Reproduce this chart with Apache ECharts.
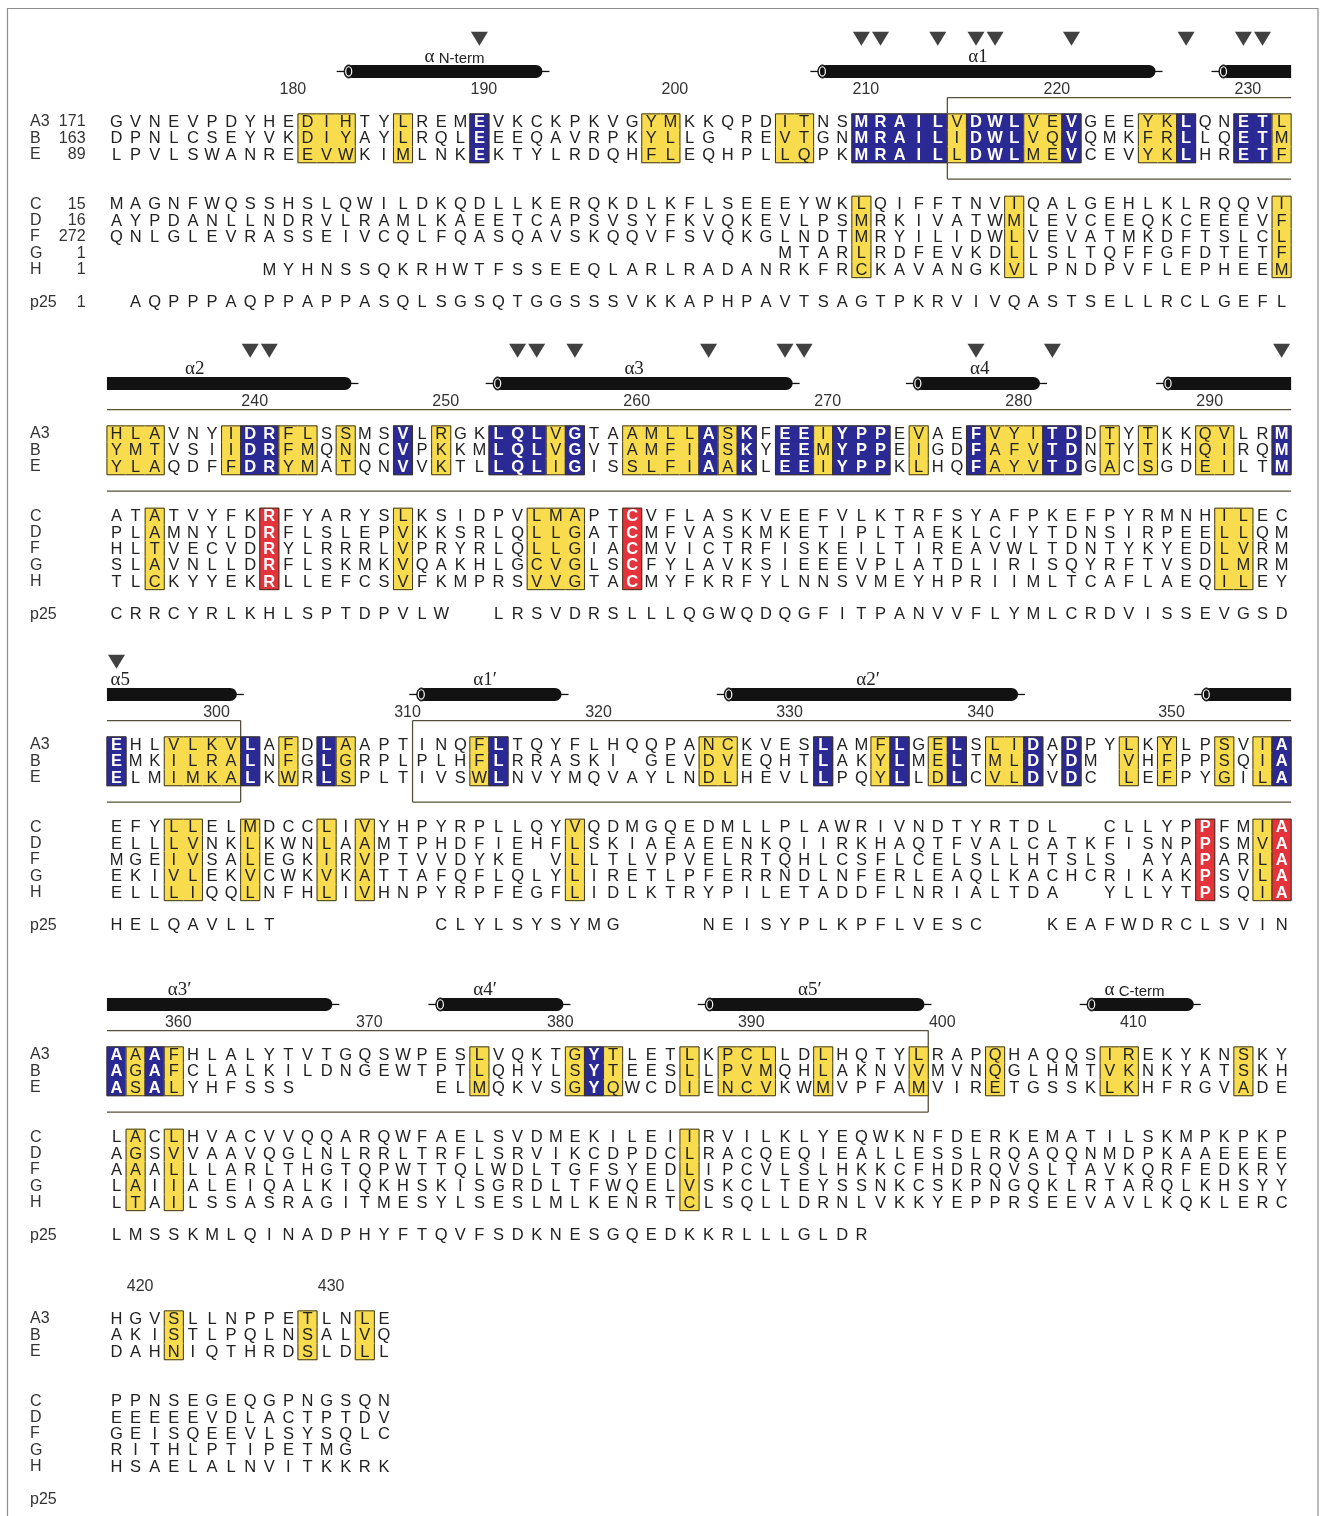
<!DOCTYPE html>
<html>
<head>
<meta charset="utf-8">
<title>Sequence alignment</title>
<script src="https://cdn.jsdelivr.net/npm/echarts@6/dist/echarts.min.js"></script>
<style>
  html, body { margin: 0; padding: 0; background: #fff; }
  #chart { width: 1321px; height: 1516px; }
</style>
</head>
<body>
<div id="chart"></div>
<script>
// ---------------- alignment data ----------------
// A3 residue number of the first column of each alignment block
const BLOCK_START = [171, 233, 295, 357, 419];
const ROW_NAMES = ['A3', 'B', 'E', 'C', 'D', 'F', 'G', 'H', 'p25'];
const ROW_FIRST = ['171', '163', '89', '15', '16', '272', '1', '1', '1'];

// one string per block, one character per column; '.' = gap / no residue
const SEQ_A3 = [
  'GVNEVPDYHEDIHTYLREMEVKCKPKVGYMKKQPDITNSMRAILVDWLVEVGEEYKLQNETL',
  'HLAVNYIDRFLSSMSVLRGKLQLVGTAAMLLASKFEEIYPPEVAEFVYITDDTYTKKQVLRM',
  'EHLVLKVLAFDLAAPTINQFLTQYFLHQQPANCKVESLAMFLGELSLIDADPYLKYLPSVIA',
  'AAAFHLALYTVTGQSWPESLVQKTGYTLETLKPCLLDLHQTYLRAPQHAQQSIREKYKNSKY',
  'HGVSLLNPPETLNLE'
];
const SEQ_B = [
  'DPNLCSEYVKDIYAYLRQLEEEQAVRPKYLLG.REVTGNMRAILIDWLVQVQMKFRLLQETM',
  'YMTVSIIDRFMQNNCVPKKMLQLVGVTAMFIASKYEEMYPPEIGDFAFVTDNTYTKHQIRQM',
  'EMKILRALNFGLGRPLPLHFLRRASKI.GEVDVEQHTLAKYLMELTMLDYDM.VHFPPSQIA',
  'AGAFCLALKILDNGEWTPTLQHYLSYTEESLLPVMQHLAKNVVMVNQGLHMTVKNKYATSKH',
  'AKISTLPQLNSALVQ'
];
const SEQ_E = [
  'LPVLSWANREEVWKIMLNKEKTYLRDQHFLEQHPLLQPKMRAILLDWLMEVCEVYKLHRETF',
  'YLAQDFFDRYMATQNVVKTLLQLIGISSLFIAAKLEEIYPPKLHQFAYVTDGACSGDEILTM',
  'ELMIMKALKWRLSPLTIVSWLNVYMQVAYLNDLHEVLLPQYLLDLCVLDVDC.LEFPYGILA',
  'ASALYHFSSS.......ELMQKVSGYQWCDIENCVKWMVPFAMVIRETGSSKLKHFRGVADE',
  'DAHNIQTHRDSLDLL'
];
const SEQ_C = [
  'MAGNFWQSSHSLQWILDKQDLLKERQKDLKFLSEEEYWKLQIFFTNVIQALGEHLKLRQQVI',
  'ATATVYFKRFYARYSLKSIDPVLMAPTCVFLASKVEEFVLKTRFSYAFPKEFPYRMNHILEC',
  'EFYLLELMDCCLIVYHPYRPLLQYVQDMGQEDMLLPLAWRIVNDTYRTDL..CLLYPPFMIA',
  'LACLHVACVVQQARQWFAELSVDMEKILEIIRVILKLYEQWKNFDERKEMATILSKMPKPKP',
  'PPNSEGEQGPNGSQN'
];
const SEQ_D = [
  'AYPDANLLNDRVLRAMLKAEETCAPSVSYFKVQKEVLPSMRKIVATWMLEVCEEQKCEEEVF',
  'PLAMNYLDRFLSLEPVKKSRLQLLGATCMFVASKMKETIPLTAEKLCIYTDNSIRPEELLQM',
  'ELLLVNKLKWNLAAMTPHDFIEHFLSKIAEAEENKQIIRKHAQTFVALCATKFISNPPSMVA',
  'AGSVVAAVQGLNLRRLTRFLSRVIKCDPDCLRACQEQIEALLESSLRQAQQNMDPKAAEEEE',
  'EEEEEVDLACTPTDV'
];
const SEQ_F = [
  'QNLGLEVRASSEIVCQLFQASQAVSKQQVFSVQKGLNDTMRYILIDWLVEVATMKDFTSLCL',
  'HLTVECVDRYLRRRLVPRYRLQLLGIACMVICTRFISKEILTIREAVWLTDNTYKYEDLVRM',
  'MGEIVSALEGKIRVPTVVDYKE.VLLTLVPVELRTQHLCSFLCELSLLHTSLS.AYAPARLA',
  'AAALLLARLTHGTQPWTTQLWDLTGFSYEDLIPCVLSLHKKCFHDRQVSLTAVKQRFEDKRY',
  'GEISQEEVLSYSQLC'
];
const SEQ_G = [
  'MTARLRDFEVKDLLSLTQFFGFDTETF'.padStart(62, '.'),
  'SLAVNLLDRFLSKMKVQAKHLGCVGLSCFYLAVKSIEEEVPLATDLIRISQYRFTVSDLMRM',
  'EKIVLEKVCWKVKATTAFQFLQLYLIRETLPFERRNDLNFERLEAQLKACHCRIKAKPSVLA',
  'LAIIALEIQALKIQKHSKISGRDLTFWQELVSKCLTEYSSNKCSKPNGQKLRTARQLKHSYY',
  'RITHLPTIPETMG'
];
const SEQ_H = [
  'MYHNSSQKRHWTFSSEEQLARLRADANRKFRCKAVANGKVLPNDPVFLEPHEEM'.padStart(62, '.'),
  'TLCKYYEKRLLEFCSVFKMPRSVVGTACMYFKRFYLNNSVMEYHPRIIMLTCAFLAEQILEY',
  'ELLLIQQLNFHLIVHNPYRPFEGFLIDLKTRYPILETADDFLNRIALTDA..YLLYTPSQIA',
  'LTAILSSASRAGITMESYLSESLMLKENRTCLSQLLDRNLVKKYEPPRSEEVAVLKQKLERC',
  'HSAELALNVITKKRK'
];
const SEQ_P25 = [
  'AQPPPAQPPAPPASQLSGSQTGGSSSVKKAPHPAVTSAGTPKRVIVQASTSELLRCLGEFL'.padStart(62, '.'),
  'CRRCYRLKHLSPTDPVLW..LRSVDRSLLLQGWQDQGFITPANVVFLYMLCRDVISSEVGSD',
  'HELQAVLLT........CLYLSYSYMG....NEISYPLKPFLVESC...KEAFWDRCLSVIN',
  'LMSSKMLQINADPHYFTQVFSDKNESGQEDKKRLLLGLDR',
  ''
];

// shaded columns per block: y = conserved, b = invariant (A3/B/E), r = invariant (C-H)
const SHADE_GROUP1 = [
  'y10-12 y15 b19 y28-29 y35-36 b39-43 y44 b45-47 y48-49 b50 y54-55 b56 b59-60 y61',
  'y0-2 y6 b7-8 y9-10 y12 b15 y17 b20-22 y23 b24 y27-30 b31 y32 b33 b35-36 y37 b38-40 y42 b45 y46-48 b49-50 y52 y54 y57-58 b61',
  'b0 y3-6 b7 y9 b11 y12 y19 b20 y31-32 b37 y40 b41 y43 b44 y46-47 b48 b50 y53 y55 y58 y60 b61',
  'b0 y1 b2 y3 y19 y24 b25 y26 y30 y32-34 y37 y42 y46 y52-53 y59',
  'y3 y10 y13'
];
const SHADE_GROUP2 = [
  'y39 y47 y61',
  'y2 r8 y15 y22-24 r27 y58-59',
  'y3-4 y7 y11 y13 y24 r57 y60 r61',
  'y1 y3 y30',
  ''
];

// residue-number ticks above the blocks
const TICKS = [180, 190, 200, 210, 220, 230, 240, 250, 260, 270, 280, 290,
               300, 310, 320, 330, 340, 350, 360, 370, 380, 390, 400, 410, 420, 430];

// helices: name, first residue, last residue, label position (A3 numbering)
const HELICES = [
  ['α N-term', 183.0, 193.3, 188.7],
  ['α1', 207.8, 225.4, 216.1],
  ['α2', 228.8, 245.3, 237.1],
  ['α3', 252.8, 268.4, 260.1],
  ['α4', 274.8, 281.35, 278.2],
  ['α5', 287.9, 301.3, 295.2],
  ['α1′', 310.8, 318.3, 314.3],
  ['α2′', 326.9, 342.2, 334.35],
  ['α3′', 351.9, 368.3, 360.3],
  ['α4′', 373.8, 380.4, 376.3],
  ['α5′', 387.9, 399.3, 393.3],
  ['α C-term', 407.9, 413.4, 410.3]
];

// residues marked with a triangle
const MARKED = [190, 210, 211, 214, 216, 217, 221, 227, 230, 231, 240, 241, 254, 255,
                257, 264, 268, 269, 278, 282, 294, 295];

// boxed domains (A3 numbering, cell boundaries)
const DOMAINS = [[214.5, 301.5], [310.5, 399.5]];

// ---------------- layout ----------------
const NCOL = 62;
const COL0_X = 116.5, COL_PX = 19.1, ROW_PX = 16.3;
const A3_Y = [122, 434, 745, 1055, 1319];
const ROW_POS = [0, 1, 2, 5.05, 6.05, 7.05, 8.05, 9.05, 11.05];
const GROUPS = [[0, 1, 2], [3, 4, 5, 6, 7]];
const TICK_ROW = -2.0, HELIX_ROW = -3.1, HELIX_LABEL_ROW = -4.0, MARK_ROW = -5.1;
const BOX_TOP = -1.5, BOX_BOTTOM = 3.5;
const NAME_COL = -4.53, NUM_COL = -1.62;

const SANS = '"Liberation Sans", Arial, Helvetica, sans-serif';
const SERIF = '"Liberation Serif", "Times New Roman", serif';
const SHADE = { y: '#F8DC4E', b: '#2B2A94', r: '#E5333B' };
const EDGE = '#3a3422';
const INK = '#222222';
const SEQ_FONT = '16.5px ' + SANS;

const seqRows = [SEQ_A3, SEQ_B, SEQ_E, SEQ_C, SEQ_D, SEQ_F, SEQ_G, SEQ_H, SEQ_P25];

function parseShade(spec) {
  const out = new Array(NCOL).fill('');
  spec.split(/\s+/).filter(Boolean).forEach(tok => {
    const code = tok[0];
    const parts = tok.slice(1).split('-').map(Number);
    const a = parts[0], e = parts.length > 1 ? parts[1] : parts[0];
    for (let i = a; i <= e; i++) out[i] = code;
  });
  return out;
}

function groupOf(r) {
  return GROUPS.findIndex(g => g.indexOf(r) >= 0);
}

function buildCells(b) {
  const shade1 = parseShade(SHADE_GROUP1[b]);
  const shade2 = parseShade(SHADE_GROUP2[b]);
  const chars = seqRows.map(rows => rows[b]);
  const codes = chars.map((s, r) => {
    const g = groupOf(r);
    const src = g === 0 ? shade1 : g === 1 ? shade2 : null;
    return Array.from({ length: NCOL }, (_, c) =>
      (src && s[c] && s[c] !== '.') ? src[c] : '');
  });
  const codeAt = (r, c) => (r < 0 || c < 0 || c >= NCOL) ? '' : codes[r][c];
  const data = [], meta = [];
  chars.forEach((s, r) => {
    const g = groupOf(r);
    const grp = g >= 0 ? GROUPS[g] : [r];
    const k = grp.indexOf(r);
    const up = k > 0 ? grp[k - 1] : -1;
    const down = k < grp.length - 1 ? grp[k + 1] : -1;
    for (let c = 0; c < s.length; c++) {
      const ch = s[c];
      if (ch === '.' || ch === ' ') continue;
      const hl = codes[r][c];
      let edges = 0;
      if (hl) {
        if (codeAt(up, c) !== hl) edges |= 1;
        if (codeAt(r, c + 1) !== hl) edges |= 2;
        if (codeAt(down, c) !== hl) edges |= 4;
        if (codeAt(r, c - 1) !== hl) edges |= 8;
      }
      data.push([c, ROW_POS[r]]);
      meta.push({ ch, hl, edges });
    }
  });
  return { data, meta };
}

function cellRenderer(meta) {
  return function (params, api) {
    const m = meta[params.dataIndex];
    const p = api.coord([api.value(0), api.value(1)]);
    const sz = api.size([1, 1]);
    const w = Math.abs(sz[0]), h = Math.abs(sz[1]);
    const x0 = p[0] - w / 2, y0 = p[1] - h / 2;
    const kids = [];
    if (m.hl) {
      kids.push({ type: 'rect', shape: { x: x0 - 0.4, y: y0 - 0.4, width: w + 0.8, height: h + 0.8 },
                  style: { fill: SHADE[m.hl] } });
      const edge = (x1, y1, x2, y2) => kids.push({ type: 'line', shape: { x1, y1, x2, y2 },
                  style: { stroke: EDGE, lineWidth: 1 } });
      if (m.edges & 1) edge(x0, y0, x0 + w, y0);
      if (m.edges & 2) edge(x0 + w, y0, x0 + w, y0 + h);
      if (m.edges & 4) edge(x0, y0 + h, x0 + w, y0 + h);
      if (m.edges & 8) edge(x0, y0, x0, y0 + h);
    }
    const light = m.hl === 'b' || m.hl === 'r';
    kids.push({ type: 'text', style: {
      text: m.ch, x: p[0], y: p[1] + 0.5,
      align: 'center', verticalAlign: 'middle', textAlign: 'center', textVerticalAlign: 'middle',
      font: (light ? 'bold ' : '') + SEQ_FONT, fill: light ? '#ffffff' : INK } });
    return { type: 'group', children: kids };
  };
}

function textRenderer(meta) {
  return function (params, api) {
    const m = meta[params.dataIndex];
    const p = api.coord([api.value(0), api.value(1)]);
    const style = {
      text: m.text, x: p[0] + (m.dx || 0), y: p[1],
      align: m.align || 'center', verticalAlign: 'middle',
      textAlign: m.align || 'center', textVerticalAlign: 'middle',
      font: m.font || ('16px ' + SANS), fill: m.color || INK
    };
    if (m.rich) style.rich = m.rich;
    return { type: 'text', style };
  };
}

function helixLabel(name) {
  const rest = name.slice(1);
  if (rest.charAt(0) === ' ') {
    return { text: '{g|α}{s|' + rest + '}',
             rich: { g: { font: '19px ' + SERIF, fill: INK, verticalAlign: 'bottom' },
                     s: { font: '15px ' + SANS, fill: INK, verticalAlign: 'bottom' } } };
  }
  return { text: '{g|' + name + '}', rich: { g: { font: '19px ' + SERIF, fill: INK } } };
}

function helixRenderer(meta) {
  return function (params, api) {
    const m = meta[params.dataIndex];
    const p1 = api.coord([api.value(0), api.value(2)]);
    const p2 = api.coord([api.value(1), api.value(2)]);
    const th = 13, r = th / 2, y = p1[1];
    const kids = [];
    if (m.capR) {
      kids.push({ type: 'line', shape: { x1: p2[0] - 2, y1: y, x2: p2[0] + 7, y2: y },
                  style: { stroke: '#111', lineWidth: 1.3 } });
    }
    if (m.capL) {
      kids.push({ type: 'line', shape: { x1: p1[0] - 9, y1: y, x2: p1[0], y2: y },
                  style: { stroke: '#111', lineWidth: 1.3 } });
    }
    kids.push({ type: 'rect',
      shape: { x: p1[0], y: y - r, width: p2[0] - p1[0], height: th,
               r: [m.capL ? r : 0, m.capR ? r : 0, m.capR ? r : 0, m.capL ? r : 0] },
      style: { fill: '#121212' } });
    if (m.capL) {
      kids.push({ type: 'ellipse', shape: { cx: p1[0] + 3, cy: y, rx: 4.5, ry: r },
                  style: { fill: '#121212', stroke: '#121212', lineWidth: 1 } });
      kids.push({ type: 'ellipse', shape: { cx: p1[0] + 3, cy: y, rx: 3, ry: r - 1.8 },
                  style: { fill: 'none', stroke: '#ffffff', lineWidth: 1.2 } });
    }
    return { type: 'group', children: kids };
  };
}

function boxRenderer(meta) {
  return function (params, api) {
    const m = meta[params.dataIndex];
    const a = api.coord([api.value(0), BOX_TOP]);
    const e = api.coord([api.value(1), BOX_BOTTOM]);
    const st = { stroke: '#55503a', lineWidth: 1.3 };
    const kids = [
      { type: 'line', shape: { x1: a[0], y1: a[1], x2: e[0], y2: a[1] }, style: st },
      { type: 'line', shape: { x1: a[0], y1: e[1], x2: e[0], y2: e[1] }, style: st }
    ];
    if (m.closedL) kids.push({ type: 'line', shape: { x1: a[0], y1: a[1], x2: a[0], y2: e[1] }, style: st });
    if (m.closedR) kids.push({ type: 'line', shape: { x1: e[0], y1: a[1], x2: e[0], y2: e[1] }, style: st });
    return { type: 'group', children: kids };
  };
}

// ---------------- chart options ----------------
const grids = [], xAxes = [], yAxes = [], series = [];

BLOCK_START.forEach((s0, b) => {
  const lo = s0 - 0.5, hi = s0 + NCOL - 0.5;
  grids.push({ left: COL0_X - COL_PX / 2, width: COL_PX * NCOL,
               top: A3_Y[b] - 6 * ROW_PX, height: 18 * ROW_PX });
  xAxes.push({ gridIndex: b, type: 'value', min: -0.5, max: NCOL - 0.5, show: false });
  yAxes.push({ gridIndex: b, type: 'value', min: -6, max: 12, inverse: true, show: false });
  const axes = { xAxisIndex: b, yAxisIndex: b };

  // domain boxes
  const boxData = [], boxMeta = [];
  DOMAINS.forEach(([a, e]) => {
    if (e <= lo || a >= hi) return;
    boxData.push([Math.max(a, lo) - s0, Math.min(e, hi) - s0]);
    boxMeta.push({ closedL: a > lo, closedR: e < hi });
  });
  if (boxData.length) {
    series.push(Object.assign({ type: 'custom', z: 1, clip: false, silent: true,
      encode: { x: [0, 1] }, data: boxData, renderItem: boxRenderer(boxMeta) }, axes));
  }

  // residues
  const cells = buildCells(b);
  series.push(Object.assign({ type: 'custom', z: 2, clip: false, silent: true,
    data: cells.data, renderItem: cellRenderer(cells.meta) }, axes));

  // row names (and starting residue numbers in the first block)
  const labData = [], labMeta = [];
  ROW_NAMES.forEach((name, r) => {
    labData.push([NAME_COL, ROW_POS[r]]);
    labMeta.push({ text: name, align: 'left', font: '16px ' + SANS, color: '#333' });
    if (b === 0) {
      labData.push([NUM_COL, ROW_POS[r]]);
      labMeta.push({ text: ROW_FIRST[r], align: 'right', font: '16px ' + SANS, color: '#333' });
    }
  });
  // residue-number ticks
  TICKS.filter(t => t >= lo && t < hi).forEach(t => {
    labData.push([t - s0, TICK_ROW]);
    labMeta.push({ text: String(t), dx: 4.5, font: '16px ' + SANS, color: '#333' });
  });
  // helix labels
  HELICES.forEach(hx => {
    if (hx[3] >= lo && hx[3] < hi) {
      const lab = helixLabel(hx[0]);
      labData.push([hx[3] - s0, HELIX_LABEL_ROW]);
      labMeta.push({ text: lab.text, rich: lab.rich });
    }
  });
  series.push(Object.assign({ type: 'custom', z: 4, clip: false, silent: true,
    data: labData, renderItem: textRenderer(labMeta) }, axes));

  // helices
  const hxData = [], hxMeta = [];
  HELICES.forEach(hx => {
    const a = hx[1], e = hx[2];
    if (e <= lo || a >= hi) return;
    hxData.push([Math.max(a, lo) - s0, Math.min(e, hi) - s0, HELIX_ROW]);
    hxMeta.push({ capL: a > lo, capR: e < hi });
  });
  if (hxData.length) {
    series.push(Object.assign({ type: 'custom', z: 3, clip: false, silent: true,
      encode: { x: [0, 1], y: 2 }, data: hxData, renderItem: helixRenderer(hxMeta) }, axes));
  }

  // triangle marks
  const mk = MARKED.filter(m => m >= lo && m < hi).map(m => [m - s0, MARK_ROW]);
  if (mk.length) {
    series.push(Object.assign({ type: 'scatter', z: 3, silent: true,
      symbol: 'path://M0,0L20,0L10,17Z', symbolSize: [17, 14],
      itemStyle: { color: '#121212' }, data: mk }, axes));
  }
});

const chart = echarts.init(document.getElementById('chart'), null, { renderer: 'canvas' });
chart.setOption({
  backgroundColor: '#ffffff',
  animation: false,
  grid: grids,
  xAxis: xAxes,
  yAxis: yAxes,
  graphic: [{
    type: 'rect', silent: true, z: -1,
    shape: { x: 7.5, y: 8.5, width: 1310.5, height: 1540 },
    style: { fill: 'none', stroke: '#8d8d8d', lineWidth: 1.2 }
  }],
  series: series
});
</script>
</body>
</html>
